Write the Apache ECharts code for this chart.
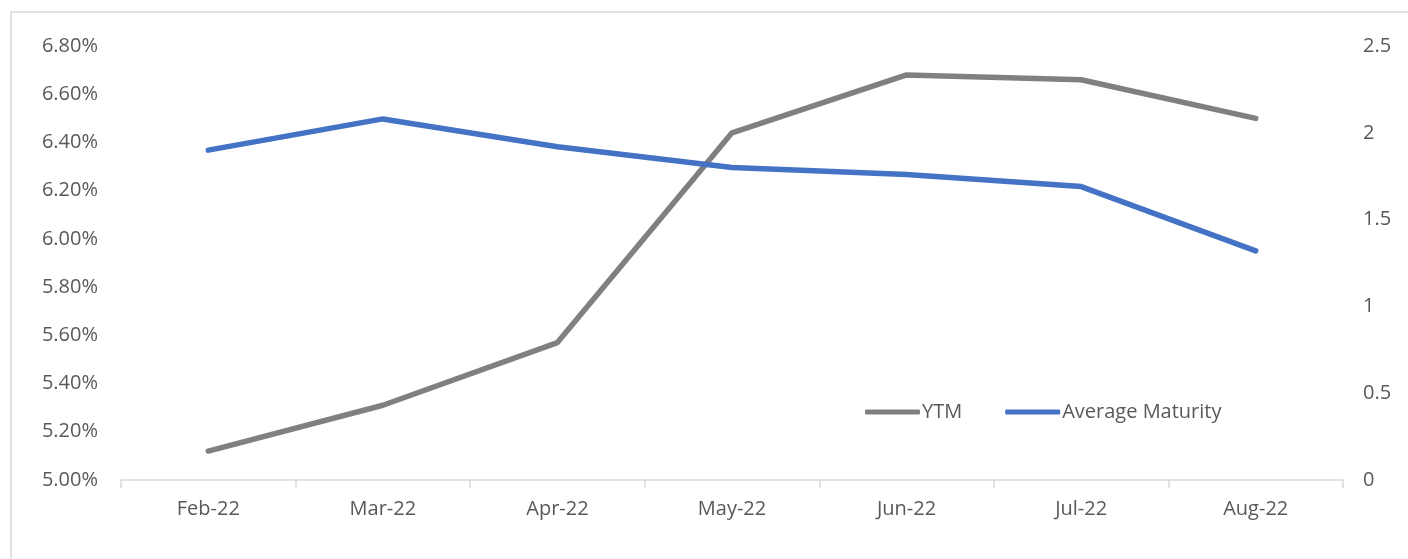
<!DOCTYPE html>
<html>
<head>
<meta charset="utf-8">
<script src="https://cdn.jsdelivr.net/npm/echarts@6/dist/echarts.min.js"></script>
<style>html,body{margin:0;padding:0;background:#fff}#c{width:1408px;height:559px}</style>
</head>
<body>
<div id="c"></div>
<script>
const categories = ['Feb-22','Mar-22','Apr-22','May-22','Jun-22','Jul-22','Aug-22'];
const ytm = [5.12, 5.31, 5.57, 6.44, 6.68, 6.66, 6.50];
const avgMaturity = [1.90, 2.08, 1.92, 1.80, 1.76, 1.69, 1.32];
const leftTicks = {min: 5.0, max: 6.8, interval: 0.2};
const rightTicks = {min: 0, max: 2.5, interval: 0.5};

const chart = echarts.init(document.getElementById('c'));
const font = '"Open Sans", sans-serif';
chart.setOption({
  animation: false,
  graphic: [{type:'rect', shape:{x:11, y:12, width:1500, height:700}, style:{fill:'none', stroke:'#d9d9d9', lineWidth:1.5}, silent:true}],
  grid: {left:121, right:65, top:46, bottom:79},
  legend: {
    left: 860, top: 397,
    itemWidth: 55, itemHeight: 5, itemGap: 43,
    icon: 'roundRect',
    textStyle: {fontFamily: font, fontSize: 20, color: '#595959', padding:[0,0,0,-3]},
    data: ['YTM', 'Average Maturity']
  },
  xAxis: {
    type: 'category', data: categories, boundaryGap: true,
    axisLine: {lineStyle: {color: '#d9d9d9', width: 1.5}},
    axisTick: {show: true, length: 8, lineStyle: {color: '#d9d9d9', width: 1.5}},
    axisLabel: {fontFamily: font, fontSize: 20, color: '#595959', margin: 19}
  },
  yAxis: [
    {type:'value', min:leftTicks.min, max:leftTicks.max, interval:leftTicks.interval,
     axisLine:{show:false}, axisTick:{show:false}, splitLine:{show:false},
     axisLabel:{fontFamily:font, fontSize:20, color:'#595959', margin:23, formatter: v => v.toFixed(2) + '%'}},
    {type:'value', min:rightTicks.min, max:rightTicks.max, interval:rightTicks.interval,
     axisLine:{show:false}, axisTick:{show:false}, splitLine:{show:false},
     axisLabel:{fontFamily:font, fontSize:20, color:'#595959', margin:20}}
  ],
  series: [
    {name:'YTM', type:'line', data: ytm, yAxisIndex:0, symbol:'none',
     lineStyle:{color:'#808080', width:5.5, cap:'round', join:'round'}, itemStyle:{color:'#808080'}},
    {name:'Average Maturity', type:'line', data: avgMaturity, yAxisIndex:1, symbol:'none',
     lineStyle:{color:'#4472C4', width:5.5, cap:'round', join:'round'}, itemStyle:{color:'#4472C4'}}
  ]
});
</script>
</body>
</html>
